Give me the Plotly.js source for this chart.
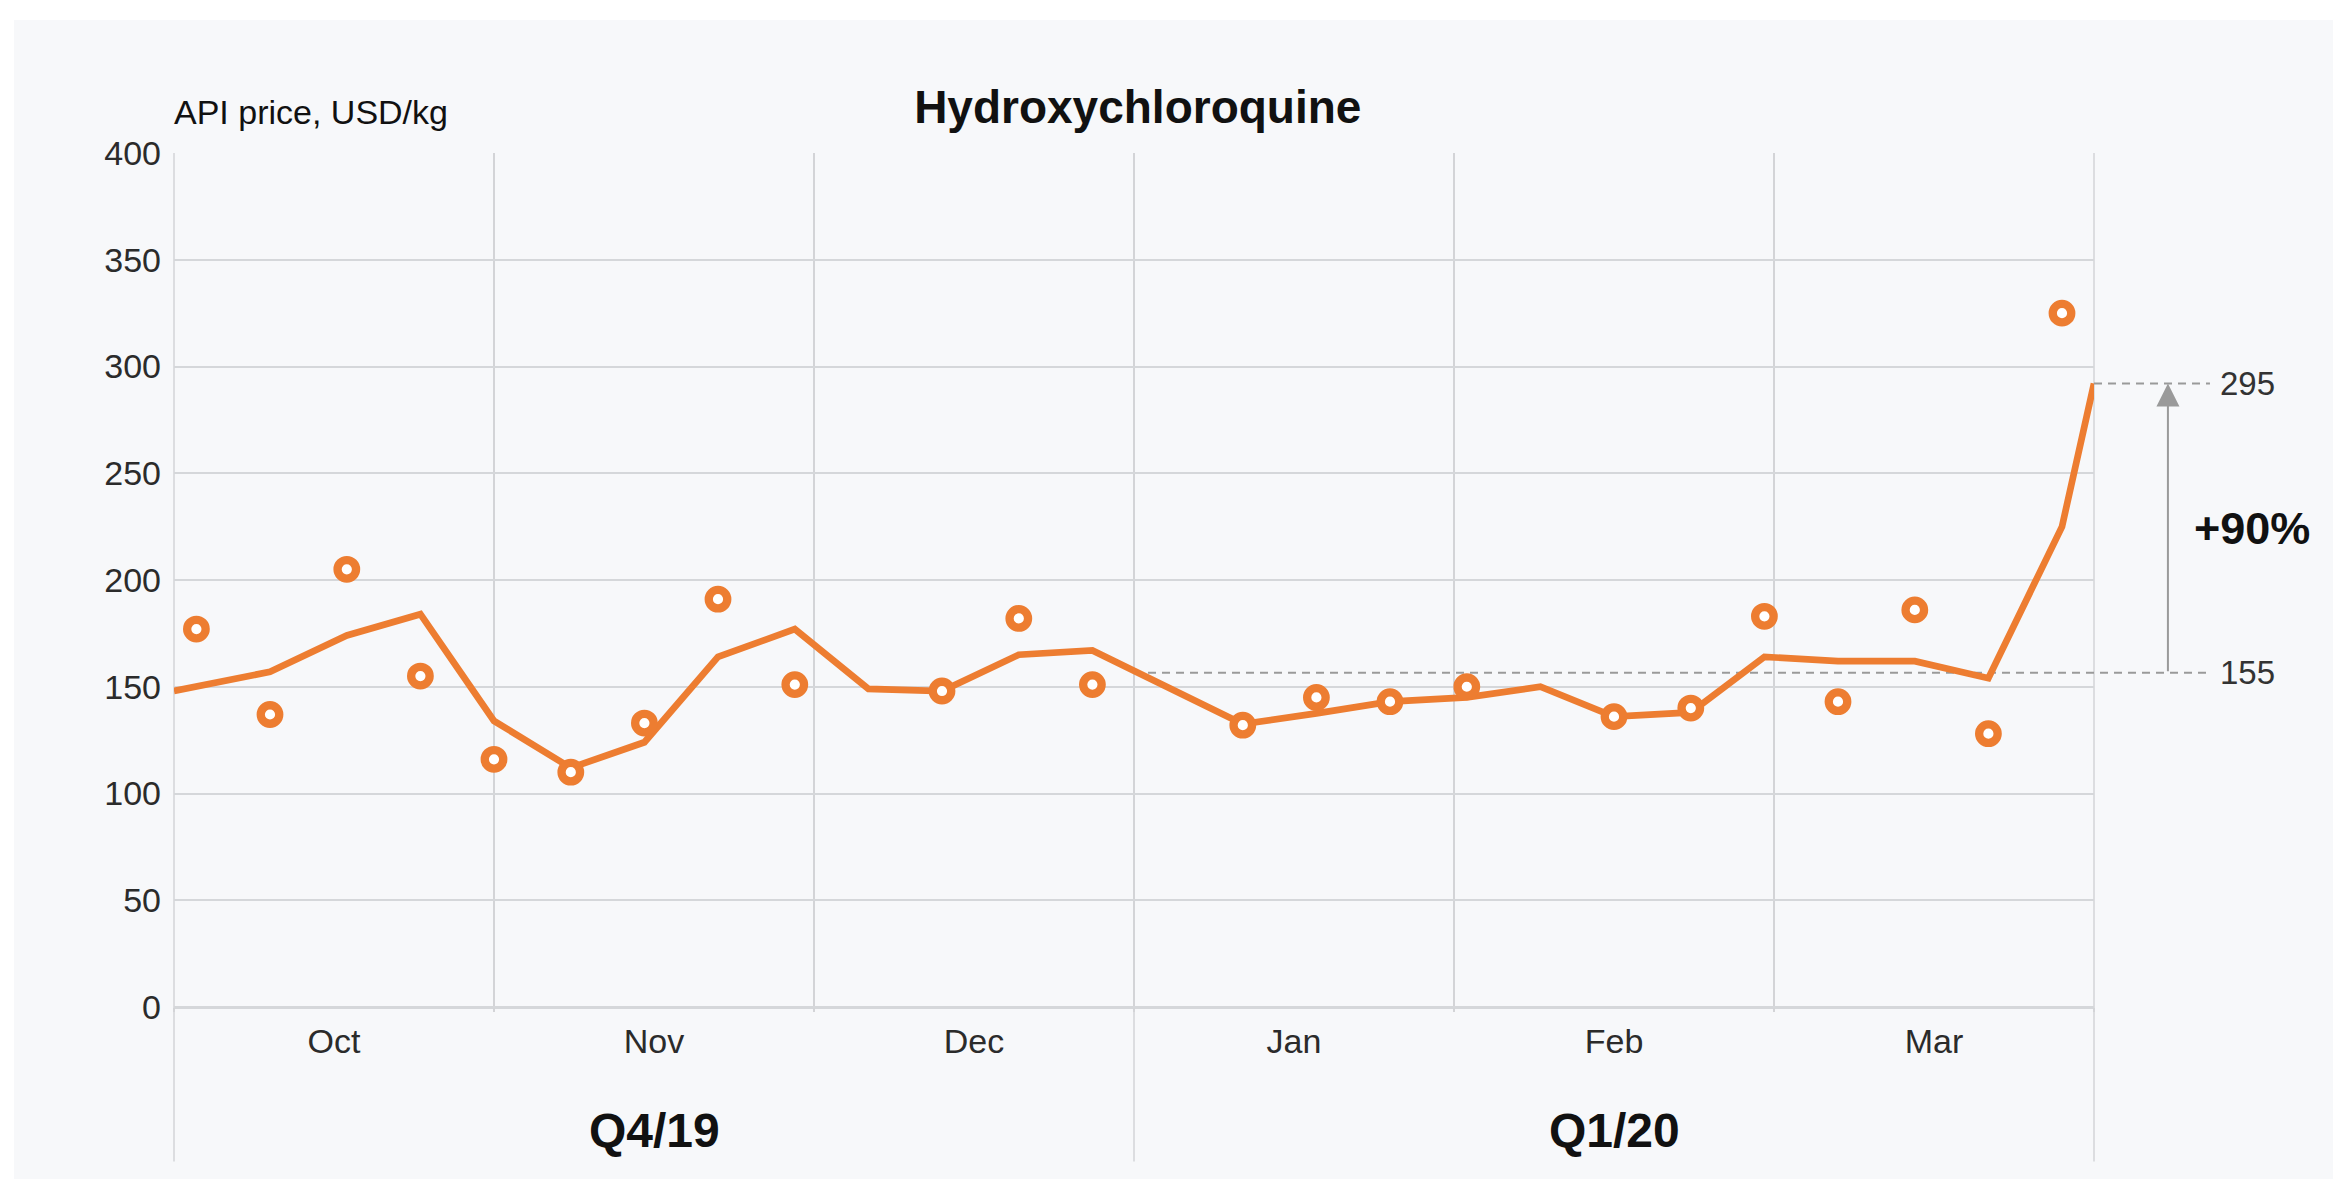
<!DOCTYPE html>
<html>
<head>
<meta charset="utf-8">
<script src="https://cdn.plot.ly/plotly-3.0.1.min.js"></script>
<style>
  html, body { margin: 0; padding: 0; background: #ffffff; width: 2333px; height: 1179px; overflow: hidden; }
  #chart { position: absolute; left: 14px; top: 20px; width: 2319px; height: 1159px; }
</style>
</head>
<body>
<div id="chart"></div>
<script>
// ---- data ----
const monthLabels = ['Oct', 'Nov', 'Dec', 'Jan', 'Feb', 'Mar'];
const monthCenters = [0.5, 1.5, 2.5, 3.5, 4.5, 5.5];
const quarterLabels = ['Q4/19', 'Q1/20'];
const quarterCenters = [1.5, 4.5];

// weekly observations (x in months from 1 Oct 2019)
const weekX = [0.07, 0.30, 0.54, 0.77, 1.00, 1.24, 1.47, 1.70, 1.94, 2.17, 2.40, 2.64, 2.87,
               3.10, 3.34, 3.57, 3.80, 4.04, 4.27, 4.50, 4.74, 4.97, 5.20, 5.44, 5.67, 5.90];
const weeklyPrice = [177, 137, 205, 155, 116, 110, 133, 191, 151, null, 148, 182, 151,
                     null, 132, 145, 143, 150, null, 136, 140, 183, 143, 186, 128, 325];

// trend line
const trendX = [0, 0.30, 0.54, 0.77, 1.00, 1.24, 1.47, 1.70, 1.94, 2.17, 2.40, 2.64, 2.87,
                3.10, 3.34, 3.57, 3.80, 4.04, 4.27, 4.50, 4.74, 4.97, 5.20, 5.44, 5.67, 5.90, 6];
const trendPrice = [148, 157, 174, 184, 134, 112, 124, 164, 177, 149, 148, 165, 167,
                    150, 132.5, 137.5, 143, 145, 150, 136, 138, 164, 162, 162, 154, 225, 292];

// reference levels and change annotation
const refLevels = [156.5, 292];
const refLabels = ['155', '295'];
const changeLabel = '+90%';
const refStartX = 3;       // baseline dash starts at start of Jan

const yMax = 400;
const xMax = 6;

// ---- styling ----
const ORANGE = '#ED7D31';
const GRID = '#d5d7da';
const VGRID = '#d3d4d7';
const DASH = '#9a9a9a';
const FONT = '"Liberation Sans", Arial, Helvetica, sans-serif';
const TXT = '#2b2b2b';

const xp = v => v / xMax;   // data x -> paper fraction
const ypf = v => v / yMax;  // data y -> paper fraction

const traces = [
  {
    type: 'scatter', mode: 'lines', x: trendX, y: trendPrice,
    line: { color: ORANGE, width: 6.7 }, hoverinfo: 'skip', showlegend: false
  },
  {
    type: 'scatter', mode: 'markers', x: weekX, y: weeklyPrice,
    marker: { symbol: 'circle', size: 18.5, color: '#ffffff', line: { color: ORANGE, width: 8.3 } },
    showlegend: false, cliponaxis: false
  }
];

const shapes = [];
// separators at start, quarter boundary and end, extending below the plot
[0, 3, 6].forEach(v => {
  shapes.push({ type: 'line', xref: 'paper', yref: 'paper', x0: xp(v), x1: xp(v), y0: 1, y1: -0.181,
                line: { color: VGRID, width: 1.5 }, layer: 'below' });
});
// baseline dashed line
shapes.push({ type: 'line', xref: 'paper', yref: 'paper',
              x0: xp(refStartX), x1: 1.0604, y0: ypf(refLevels[0]), y1: ypf(refLevels[0]),
              line: { color: DASH, width: 2, dash: '8px,6px' }, layer: 'below' });
// peak dashed line
shapes.push({ type: 'line', xref: 'paper', yref: 'paper',
              x0: xp(trendX[trendX.length - 1]), x1: 1.0604, y0: ypf(refLevels[1]), y1: ypf(refLevels[1]),
              line: { color: DASH, width: 2, dash: '8px,6px' }, layer: 'below' });

const annotations = [];
annotations.push({ text: 'API price, USD/kg', xref: 'paper', yref: 'paper', x: -0.001, y: 1.048,
                   xanchor: 'left', yanchor: 'middle', showarrow: false,
                   font: { family: FONT, size: 34, color: '#111' } });
quarterLabels.forEach((q, i) => {
  annotations.push({ text: '<b>' + q + '</b>', xref: 'paper', yref: 'paper', x: xp(quarterCenters[i]), y: -0.145,
                     xanchor: 'center', yanchor: 'middle', showarrow: false,
                     font: { family: FONT, size: 48, color: '#111' } });
});
refLabels.forEach((t, i) => {
  annotations.push({ text: t, xref: 'paper', yref: 'y', x: 1.0646, y: refLevels[i],
                     xanchor: 'left', yanchor: 'middle', showarrow: false,
                     font: { family: FONT, size: 33, color: '#333' } });
});
// arrow
annotations.push({ text: '', xref: 'paper', yref: 'y', x: 1.0385, y: refLevels[1],
                   axref: 'pixel', ayref: 'y', ax: 0, ay: refLevels[0],
                   showarrow: true, arrowhead: 2, arrowsize: 2.3, arrowwidth: 2, arrowcolor: DASH, standoff: 0 });
annotations.push({ text: '<b>' + changeLabel + '</b>', xref: 'paper', yref: 'y', x: 1.051,
                   y: (refLevels[0] + refLevels[1]) / 2, xanchor: 'left', yanchor: 'middle', showarrow: false,
                   font: { family: FONT, size: 45, color: '#111' } });

const layout = {
  width: 2319, height: 1159,
  paper_bgcolor: '#f7f8fa', plot_bgcolor: '#f7f8fa',
  margin: { l: 160, r: 239, t: 133, b: 172, pad: 0 },
  font: { family: FONT, color: TXT },
  title: { text: '<b>Hydroxychloroquine</b>', x: 0.4846, xanchor: 'center', y: 0.925, yanchor: 'middle',
           font: { family: FONT, size: 46, color: '#111' } },
  showlegend: false,
  xaxis: {
    range: [0, xMax], fixedrange: true,
    tickmode: 'array', tickvals: monthCenters, ticktext: monthLabels,
    ticks: '', showgrid: false, zeroline: false, showline: false,
    tickfont: { family: FONT, size: 34, color: TXT },
    ticklabelstandoff: 11,
    minor: { tickmode: 'linear', tick0: 0, dtick: 1, showgrid: true, gridcolor: VGRID, gridwidth: 1.5,
             ticks: 'outside', ticklen: 4, tickcolor: VGRID, tickwidth: 1.5 }
  },
  yaxis: {
    range: [0, yMax], fixedrange: true,
    tickmode: 'array', tickvals: [0, 50, 100, 150, 200, 250, 300, 350, 400],
    showgrid: true, gridcolor: GRID, gridwidth: 2,
    zeroline: true, zerolinecolor: GRID, zerolinewidth: 3,
    showline: false, ticks: '',
    tickfont: { family: FONT, size: 34, color: TXT },
    ticklabelstandoff: 12
  },
  shapes: shapes,
  annotations: annotations
};

Plotly.newPlot('chart', traces, layout, { displayModeBar: false, staticPlot: true });
</script>
</body>
</html>
